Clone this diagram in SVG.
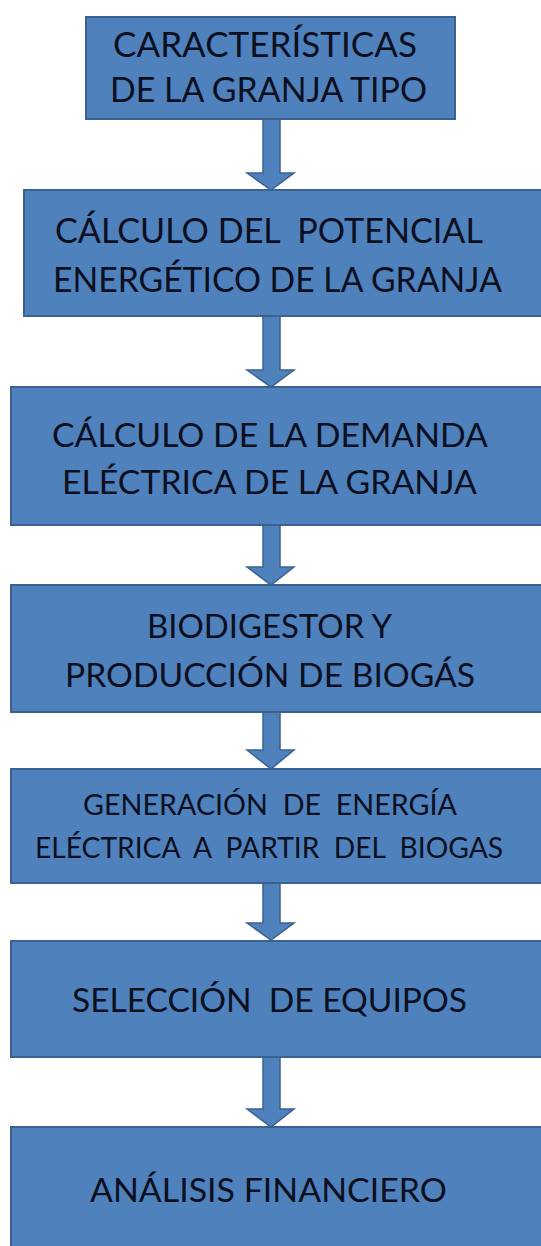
<svg xmlns="http://www.w3.org/2000/svg" width="541" height="1246" viewBox="0 0 541 1246">
<style>
.box{fill:#4F81BD;stroke:#3B6190;stroke-width:2}
.arr{fill:#4F81BD;stroke:#3B6190;stroke-width:1.5;stroke-linejoin:miter}
.t{font-family:Lato,"Open Sans","Liberation Sans",sans-serif;fill:#0B0F1E;white-space:pre}
.l{font-size:35px}
.m{font-size:33px}
.s{font-size:28px}
</style>
<rect width="541" height="1246" fill="#FFFFFF"/>
<g id="connectors">
<polygon class="arr" points="263,119 280,119 280,173 294,173 271,190 247,173 263,173"/>
<polygon class="arr" points="263,315 280,315 280,370 294,370 271,387 247,370 263,370"/>
<polygon class="arr" points="263,525 280,525 280,567 294,567 271,585 247,567 263,567"/>
<polygon class="arr" points="263,712 280,712 280,750 294,750 271,769 247,750 263,750"/>
<polygon class="arr" points="263,883 280,883 280,923 294,923 271,940 247,923 263,923"/>
<polygon class="arr" points="263,1057 280,1057 280,1109 294,1109 271,1127 247,1109 263,1109"/>
</g>
<g id="n1">
<rect class="box" x="86" y="17" width="369" height="102"/>
<text class="t l" x="113" y="57" textLength="304" lengthAdjust="spacingAndGlyphs">CARACTERÍSTICAS</text>
<text class="t l" x="110" y="102" textLength="317" lengthAdjust="spacingAndGlyphs">DE LA GRANJA TIPO</text>
</g>
<g id="n2">
<rect class="box" x="24" y="190" width="530" height="126"/>
<text class="t l" x="55" y="243" textLength="428" lengthAdjust="spacingAndGlyphs">CÁLCULO DEL  POTENCIAL</text>
<text class="t l" x="53" y="292" textLength="449" lengthAdjust="spacingAndGlyphs">ENERGÉTICO DE LA GRANJA</text>
</g>
<g id="n3">
<rect class="box" x="11" y="387" width="543" height="138"/>
<text class="t m" x="52" y="447" textLength="436" lengthAdjust="spacingAndGlyphs">CÁLCULO DE LA DEMANDA</text>
<text class="t m" x="62" y="494" textLength="415" lengthAdjust="spacingAndGlyphs">ELÉCTRICA DE LA GRANJA</text>
</g>
<g id="n4">
<rect class="box" x="11" y="585" width="543" height="127"/>
<text class="t m" x="147" y="638" textLength="245" lengthAdjust="spacingAndGlyphs">BIODIGESTOR Y</text>
<text class="t m" x="65" y="687" textLength="410" lengthAdjust="spacingAndGlyphs">PRODUCCIÓN DE BIOGÁS</text>
</g>
<g id="n5">
<rect class="box" x="11" y="769" width="543" height="114"/>
<text class="t s" x="83" y="815" textLength="374" lengthAdjust="spacingAndGlyphs">GENERACIÓN  DE  ENERGÍA</text>
<text class="t s" x="35" y="858" textLength="468" lengthAdjust="spacingAndGlyphs">ELÉCTRICA  A  PARTIR  DEL  BIOGAS</text>
</g>
<g id="n6">
<rect class="box" x="11" y="941" width="543" height="116"/>
<text class="t m" x="72" y="1012" textLength="395" lengthAdjust="spacingAndGlyphs">SELECCIÓN  DE EQUIPOS</text>
</g>
<g id="n7">
<rect class="box" x="11" y="1127" width="543" height="130"/>
<text class="t m" x="90" y="1202" textLength="357" lengthAdjust="spacingAndGlyphs">ANÁLISIS FINANCIERO</text>
</g>
</svg>
